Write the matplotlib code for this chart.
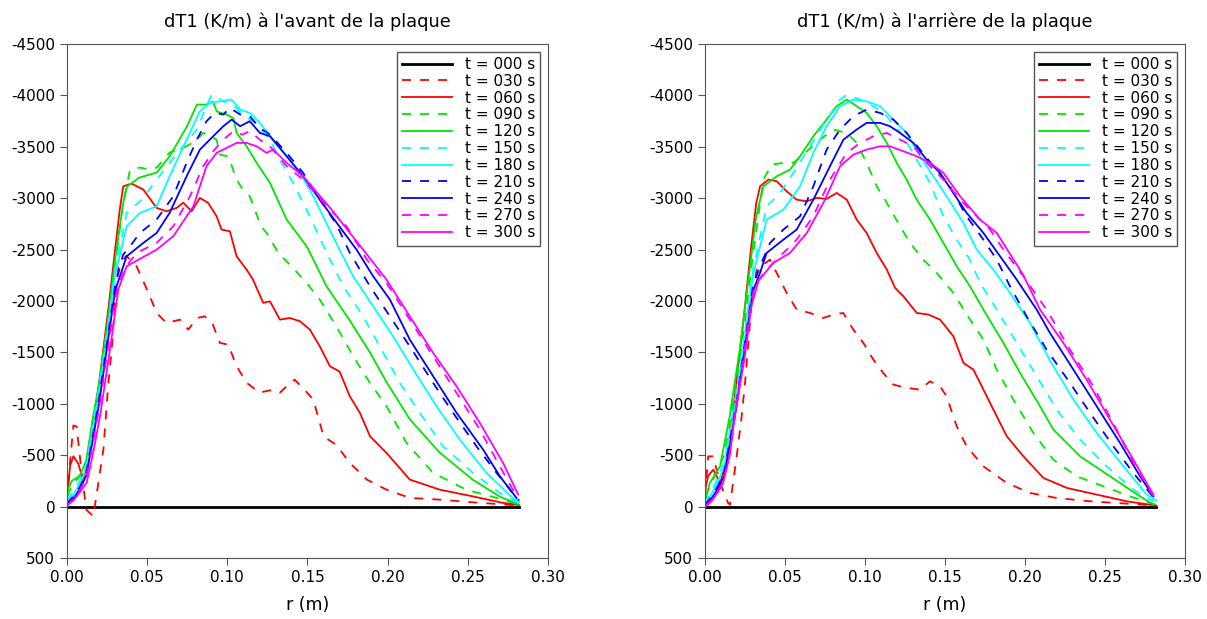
import matplotlib
matplotlib.use("Agg")
import matplotlib.pyplot as plt

plt.rcParams['font.family'] = ['DejaVu Sans']
plt.rcParams['axes.unicode_minus'] = False

# ---- données : face avant ----
r_av_000 = [0.0, 0.282]
dT_av_000 = [0, 0]

r_av_030 = [0, 0.002, 0.004, 0.006, 0.009, 0.012, 0.0164, 0.0196, 0.0227, 0.0258, 0.0279, 0.030, 0.032,
            0.037, 0.0434, 0.049, 0.056, 0.062, 0.0705, 0.0757, 0.081, 0.086, 0.091, 0.0954, 0.1006,
            0.1058, 0.112, 0.120, 0.1286, 0.1328, 0.137, 0.142, 0.149, 0.1536, 0.160, 0.168, 0.1764,
            0.187, 0.1993, 0.2138, 0.2325, 0.253, 0.274, 0.282]
dT_av_030 = [-50, -450, -790, -780, -350, 29, 94, -234, -555, -1203, -1527, -2014, -2338,
             -2440, -2338, -2143, -1883, -1786, -1819, -1722, -1835, -1851, -1770, -1592, -1576,
             -1365, -1206, -1109, -1138, -1109, -1170, -1235, -1122, -1041, -684, -600, -425,
             -263, -165, -85, -68, -42, -19, -10]

r_av_060 = [0, 0.002, 0.004, 0.007, 0.010, 0.014, 0.018, 0.022, 0.026, 0.030, 0.033, 0.0351, 0.0403,
            0.0476, 0.0559, 0.0621, 0.0684, 0.0725, 0.0777, 0.0829, 0.088, 0.0933, 0.0964, 0.1016,
            0.1058, 0.112, 0.116, 0.1224, 0.1266, 0.1328, 0.139, 0.1453, 0.1515, 0.1577, 0.164,
            0.170, 0.1764, 0.1827, 0.189, 0.1993, 0.2138, 0.2325, 0.253, 0.272, 0.282]
dT_av_060 = [-100, -400, -490, -420, -263, -500, -950, -1450, -1950, -2500, -2900, -3116, -3142,
             -3084, -2906, -2873, -2906, -2957, -2873, -3003, -2955, -2824, -2695, -2678,
             -2435, -2306, -2208, -1982, -1997, -1819, -1835, -1803, -1722, -1559, -1365,
             -1315, -1073, -912, -684, -522, -263, -165, -100, -36, -15]

r_av_090 = [0, 0.004, 0.008, 0.012, 0.016, 0.020, 0.025, 0.030, 0.035, 0.0393, 0.0455, 0.0517, 0.056,
            0.064, 0.0746, 0.081, 0.085, 0.0933, 0.0954, 0.1006, 0.1058, 0.109, 0.114, 0.121, 0.1245,
            0.1318, 0.141, 0.1494, 0.1577, 0.168, 0.1785, 0.189, 0.1993, 0.2118, 0.2284, 0.249,
            0.268, 0.282]
dT_av_090 = [-100, -220, -300, -420, -820, -1180, -1720, -2350, -2950, -3278, -3298, -3278, -3298,
             -3444, -3505, -3570, -3635, -3570, -3424, -3408, -3181, -3100, -3019, -2727, -2663,
             -2468, -2322, -2176, -2014, -1754, -1462, -1203, -976, -619, -327, -165,
             -84, -20]

r_av_120 = [0, 0.003, 0.008, 0.012, 0.016, 0.020, 0.025, 0.030, 0.035, 0.0374, 0.045, 0.056, 0.064,
            0.0748, 0.081, 0.087, 0.091, 0.0935, 0.0995, 0.1037, 0.1058, 0.112, 0.1183, 0.1266,
            0.137, 0.1496, 0.162, 0.176, 0.189, 0.1995, 0.214, 0.2325, 0.253, 0.270, 0.282]
dT_av_120 = [-150, -250, -300, -450, -850, -1200, -1750, -2400, -2950, -3113, -3200, -3250, -3408,
             -3697, -3911, -3911, -3940, -3843, -3814, -3781, -3635, -3505, -3344, -3149,
             -2792, -2530, -2140, -1820, -1498, -1206, -846, -525, -263, -97, -19]

r_av_150 = [0, 0.004, 0.008, 0.012, 0.016, 0.020, 0.025, 0.030, 0.0372, 0.0466, 0.0559, 0.0705,
            0.081, 0.087, 0.0902, 0.0975, 0.1037, 0.109, 0.116, 0.1266, 0.1328, 0.141, 0.1515,
            0.162, 0.1723, 0.1847, 0.1951, 0.2076, 0.22, 0.2346, 0.2533, 0.270, 0.282]
dT_av_150 = [-60, -150, -250, -400, -780, -1150, -1700, -2300, -2857, -2987, -3181, -3473,
             -3668, -3895, -4008, -3943, -3911, -3814, -3749, -3570, -3376, -3149, -2820,
             -2468, -2143, -1851, -1559, -1203, -912, -587, -327, -133, -30]

r_av_180 = [0, 0.004, 0.008, 0.012, 0.016, 0.020, 0.025, 0.030, 0.0372, 0.0455, 0.0559, 0.064,
            0.0746, 0.0829, 0.0892, 0.0954, 0.1027, 0.108, 0.114, 0.1203, 0.1286, 0.137, 0.1453,
            0.1536, 0.162, 0.170, 0.1785, 0.191, 0.2034, 0.216, 0.2305, 0.245, 0.2617, 0.278, 0.282]
dT_av_180 = [-40, -120, -220, -370, -740, -1100, -1650, -2250, -2727, -2857, -2921, -3213,
             -3570, -3846, -3927, -3943, -3959, -3862, -3830, -3733, -3570, -3408, -3246,
             -3019, -2750, -2500, -2240, -1948, -1657, -1333, -976, -652, -327, -84, -50]

r_av_210 = [0, 0.004, 0.008, 0.012, 0.016, 0.020, 0.025, 0.030, 0.035, 0.0393, 0.0455, 0.0559,
            0.0663, 0.0746, 0.081, 0.087, 0.0923, 0.0975, 0.1016, 0.108, 0.114, 0.1203, 0.1266,
            0.137, 0.1473, 0.1577, 0.168, 0.1764, 0.189, 0.2014, 0.2138, 0.2284, 0.2408, 0.2554,
            0.268, 0.278, 0.282]
dT_av_210 = [-30, -100, -190, -330, -680, -1050, -1600, -2150, -2450, -2532, -2662, -2792,
             -3019, -3344, -3570, -3749, -3830, -3814, -3878, -3814, -3797, -3684, -3619,
             -3441, -3246, -2986, -2750, -2468, -2143, -1851, -1559, -1203, -912, -587,
             -327, -133, -60]

r_av_240 = [0, 0.004, 0.008, 0.012, 0.016, 0.020, 0.025, 0.030, 0.0372, 0.0476, 0.0559, 0.064,
            0.0746, 0.0829, 0.0912, 0.0975, 0.1027, 0.108, 0.114, 0.1203, 0.1266, 0.137, 0.1473,
            0.164, 0.1806, 0.191, 0.2014, 0.2138, 0.2284, 0.243, 0.2596, 0.270, 0.2804]
dT_av_240 = [-20, -80, -170, -300, -640, -1000, -1550, -2100, -2435, -2565, -2662, -2857,
             -3213, -3473, -3603, -3700, -3765, -3700, -3749, -3635, -3603, -3408, -3213,
             -2850, -2500, -2240, -2014, -1625, -1268, -912, -554, -295, -84]

r_av_270 = [0, 0.004, 0.008, 0.012, 0.016, 0.020, 0.025, 0.030, 0.035, 0.0434, 0.0559, 0.0663,
            0.0767, 0.085, 0.0912, 0.0975, 0.1037, 0.109, 0.114, 0.1203, 0.1266, 0.137, 0.1473,
            0.164, 0.1744, 0.187, 0.1993, 0.2138, 0.2284, 0.243, 0.2575, 0.270, 0.2804]
dT_av_270 = [-15, -70, -160, -280, -600, -950, -1480, -2030, -2300, -2468, -2565, -2727,
             -3019, -3311, -3457, -3570, -3651, -3619, -3651, -3570, -3505, -3311, -3181,
             -2889, -2727, -2403, -2176, -1819, -1462, -1106, -749, -392, -100]

r_av_300 = [0, 0.004, 0.008, 0.0123, 0.016, 0.0206, 0.0268, 0.032, 0.0372, 0.0559, 0.0663, 0.0788,
            0.087, 0.0933, 0.0995, 0.1058, 0.112, 0.1183, 0.1245, 0.1286, 0.137, 0.1473, 0.164,
            0.1847, 0.1993, 0.2138, 0.2284, 0.243, 0.2575, 0.272, 0.2814]
dT_av_300 = [-10, -60, -140, -234, -500, -879, -1527, -2111, -2338, -2500, -2630, -2921,
             -3311, -3441, -3489, -3538, -3538, -3505, -3441, -3473, -3344, -3213, -2908,
             -2500, -2208, -1851, -1495, -1170, -814, -425, -117]

# ---- données : face arrière ----
r_ar_000 = [0.0, 0.282]
dT_ar_000 = [0, 0]

r_ar_030 = [0, 0.002, 0.005, 0.0102, 0.0144, 0.0156, 0.0198, 0.0229, 0.025, 0.0271, 0.0292, 0.0323,
            0.0406, 0.0448, 0.051, 0.0573, 0.0656, 0.0739, 0.0802, 0.0864, 0.0927, 0.099, 0.1052,
            0.1114, 0.1177, 0.126, 0.1344, 0.1406, 0.1469, 0.151, 0.1573, 0.1635, 0.174, 0.1886,
            0.2031, 0.2198, 0.2406, 0.2636, 0.282]
dT_ar_030 = [-100, -489, -489, -198, -36, -19, -489, -879, -1203, -1592, -2014, -2306,
             -2403, -2273, -2079, -1916, -1884, -1835, -1868, -1884, -1722, -1592, -1430,
             -1300, -1187, -1155, -1138, -1219, -1170, -1073, -781, -587, -392, -230,
             -133, -84, -52, -29, -10]

r_ar_060 = [0, 0.002, 0.0052, 0.0094, 0.013, 0.017, 0.021, 0.025, 0.029, 0.032, 0.0344, 0.0396,
            0.0448, 0.051, 0.0573, 0.0636, 0.0698, 0.076, 0.0823, 0.0886, 0.0948, 0.101, 0.1073,
            0.1136, 0.1188, 0.124, 0.1323, 0.1396, 0.1469, 0.1552, 0.1615, 0.1677, 0.174, 0.1802,
            0.1886, 0.199, 0.2115, 0.2261, 0.2448, 0.2636, 0.278, 0.282]
dT_ar_060 = [-165, -300, -360, -230, -420, -850, -1400, -1950, -2550, -2950, -3116, -3181,
             -3165, -3067, -2986, -2970, -3003, -2993, -3051, -2986, -2792, -2662, -2468,
             -2306, -2127, -2046, -1884, -1868, -1819, -1657, -1398, -1333, -1138, -944,
             -684, -489, -279, -182, -117, -52, -19, -10]

r_ar_090 = [0, 0.004, 0.008, 0.012, 0.016, 0.020, 0.025, 0.030, 0.0365, 0.0417, 0.049, 0.0552,
            0.0636, 0.0719, 0.0802, 0.0886, 0.0948, 0.101, 0.1073, 0.1136, 0.1219, 0.1281, 0.1364,
            0.1448, 0.1552, 0.1656, 0.174, 0.1823, 0.1927, 0.2052, 0.2177, 0.2323, 0.249, 0.2656,
            0.278, 0.282]
dT_ar_090 = [-100, -230, -360, -500, -850, -1250, -1800, -2450, -3181, -3327, -3344, -3344,
             -3457, -3570, -3668, -3635, -3538, -3344, -3116, -2955, -2727, -2565, -2403,
             -2273, -2079, -1819, -1625, -1333, -1041, -717, -457, -295, -198, -100,
             -36, -20]

r_ar_120 = [0, 0.003, 0.0094, 0.0154, 0.0217, 0.0269, 0.032, 0.0365, 0.0448, 0.0531, 0.0594,
            0.0677, 0.076, 0.0823, 0.0886, 0.0948, 0.101, 0.1073, 0.1136, 0.1198, 0.126, 0.1323,
            0.1406, 0.149, 0.1573, 0.1656, 0.174, 0.1865, 0.1969, 0.2094, 0.2177, 0.2344, 0.2531,
            0.2719, 0.2802]
dT_ar_120 = [-50, -230, -392, -879, -1527, -2176, -2824, -3116, -3213, -3278, -3408,
             -3603, -3765, -3895, -3959, -3895, -3830, -3700, -3538, -3344, -3181, -2986,
             -2792, -2565, -2338, -2143, -1916, -1592, -1300, -976, -749, -489, -295,
             -100, -19]

r_ar_150 = [0, 0.004, 0.008, 0.012, 0.016, 0.020, 0.025, 0.030, 0.0385, 0.0469, 0.0552, 0.0656,
            0.076, 0.0844, 0.0886, 0.0969, 0.1052, 0.1136, 0.124, 0.1323, 0.1406, 0.149, 0.1573,
            0.1656, 0.1719, 0.1823, 0.1948, 0.2073, 0.2198, 0.2344, 0.251, 0.2677, 0.2802]
dT_ar_150 = [-30, -150, -280, -430, -780, -1150, -1700, -2300, -2921, -3051, -3246, -3505,
             -3765, -3959, -4008, -3959, -3895, -3797, -3603, -3376, -3149, -2824, -2597,
             -2400, -2176, -1916, -1592, -1268, -944, -652, -392, -165, -52]

r_ar_180 = [0, 0.004, 0.008, 0.012, 0.016, 0.020, 0.025, 0.030, 0.0385, 0.049, 0.0594, 0.0677,
            0.076, 0.0844, 0.0927, 0.101, 0.1094, 0.1177, 0.126, 0.1344, 0.1427, 0.151, 0.1615,
            0.1698, 0.1802, 0.1906, 0.2031, 0.2156, 0.2302, 0.2448, 0.2615, 0.276, 0.282]
dT_ar_180 = [-20, -120, -240, -390, -730, -1100, -1650, -2250, -2792, -2889, -3116, -3441,
             -3700, -3895, -3959, -3943, -3895, -3765, -3635, -3408, -3213, -3019, -2760,
             -2500, -2306, -2079, -1787, -1420, -1041, -717, -392, -117, -60]

r_ar_210 = [0, 0.004, 0.008, 0.012, 0.016, 0.020, 0.025, 0.030, 0.0344, 0.0406, 0.049, 0.0594,
            0.0677, 0.076, 0.0844, 0.0927, 0.101, 0.1094, 0.1177, 0.126, 0.1344, 0.1427, 0.1531,
            0.1635, 0.174, 0.1823, 0.1906, 0.201, 0.2135, 0.2281, 0.2406, 0.2552, 0.2677, 0.278,
            0.282]
dT_ar_210 = [-15, -100, -200, -340, -680, -1050, -1600, -2150, -2338, -2565, -2695, -2824,
             -3116, -3473, -3668, -3797, -3862, -3830, -3765, -3635, -3473, -3311, -3116,
             -2824, -2597, -2403, -2143, -1851, -1527, -1203, -912, -587, -327, -133,
             -60]

r_ar_240 = [0, 0.004, 0.008, 0.012, 0.016, 0.020, 0.025, 0.030, 0.0344, 0.0385, 0.049, 0.0573,
            0.0677, 0.0781, 0.0865, 0.0948, 0.101, 0.1094, 0.1156, 0.1219, 0.1302, 0.1385, 0.1469,
            0.1552, 0.1635, 0.174, 0.1844, 0.1948, 0.2073, 0.2156, 0.2302, 0.2448, 0.2594, 0.2719,
            0.2802]
dT_ar_240 = [-10, -80, -170, -300, -640, -1000, -1550, -2100, -2273, -2468, -2597, -2695,
             -2986, -3311, -3570, -3668, -3733, -3733, -3700, -3635, -3538, -3376, -3246,
             -3051, -2857, -2662, -2435, -2208, -1916, -1689, -1333, -976, -619, -295,
             -100]

r_ar_270 = [0, 0.004, 0.008, 0.0113, 0.016, 0.0185, 0.022, 0.0248, 0.028, 0.031, 0.0385, 0.0469,
            0.0573, 0.0677, 0.0781, 0.0886, 0.0969, 0.1052, 0.1136, 0.1219, 0.1302, 0.1385, 0.149,
            0.1594, 0.1698, 0.1781, 0.1865, 0.199, 0.2135, 0.2281, 0.2427, 0.2573, 0.2677, 0.2802]
dT_ar_270 = [-5, -60, -150, -240, -560, -860, -1250, -1530, -1900, -2150, -2306, -2435,
             -2597, -2824, -3181, -3441, -3538, -3603, -3635, -3570, -3505, -3344, -3181,
             -2986, -2824, -2695, -2500, -2240, -1916, -1527, -1170, -749, -425, -100]

r_ar_300 = [0, 0.004, 0.008, 0.0113, 0.0155, 0.0185, 0.0248, 0.029, 0.0335, 0.0427, 0.0531,
            0.0636, 0.074, 0.0844, 0.0927, 0.101, 0.1094, 0.1156, 0.124, 0.1323, 0.1406, 0.149,
            0.1594, 0.1719, 0.1823, 0.1865, 0.199, 0.2094, 0.224, 0.2385, 0.2531, 0.2677, 0.2802]
dT_ar_300 = [0, -50, -140, -230, -500, -879, -1450, -1950, -2200, -2371, -2468,
             -2662, -2955, -3311, -3424, -3473, -3505, -3505, -3457, -3408, -3344, -3246,
             -3019, -2792, -2662, -2560, -2250, -1916, -1592, -1235, -846, -457, -117]

etiquettes = ['t = 000 s', 't = 030 s', 't = 060 s', 't = 090 s', 't = 120 s', 't = 150 s',
              't = 180 s', 't = 210 s', 't = 240 s', 't = 270 s', 't = 300 s']
couleurs = ['black', 'red', 'red', '#00e600', '#00e600', 'cyan', 'cyan',
            'blue', 'blue', 'magenta', 'magenta']
tirets = [False, True, False, True, False, True, False, True, False, True, False]

avant = [(r_av_000, dT_av_000), (r_av_030, dT_av_030), (r_av_060, dT_av_060),
         (r_av_090, dT_av_090), (r_av_120, dT_av_120), (r_av_150, dT_av_150),
         (r_av_180, dT_av_180), (r_av_210, dT_av_210), (r_av_240, dT_av_240),
         (r_av_270, dT_av_270), (r_av_300, dT_av_300)]
arriere = [(r_ar_000, dT_ar_000), (r_ar_030, dT_ar_030), (r_ar_060, dT_ar_060),
           (r_ar_090, dT_ar_090), (r_ar_120, dT_ar_120), (r_ar_150, dT_ar_150),
           (r_ar_180, dT_ar_180), (r_ar_210, dT_ar_210), (r_ar_240, dT_ar_240),
           (r_ar_270, dT_ar_270), (r_ar_300, dT_ar_300)]

fig = plt.figure(figsize=(12.07, 6.19), dpi=100)
ax1 = fig.add_axes([0.0555, 0.0985, 0.3985, 0.8304])
ax2 = fig.add_axes([0.5841, 0.0985, 0.3977, 0.8304])

titres = ["dT1 (K/m) à l'avant de la plaque", "dT1 (K/m) à l'arrière de la plaque"]

for ax, donnees, titre in [(ax1, avant, titres[0]), (ax2, arriere, titres[1])]:
    for (r, dT), lab, c, d in zip(donnees, etiquettes, couleurs, tirets):
        if d:
            ax.plot(r, dT, color=c, lw=1.3, linestyle=(0, (5, 5)), label=lab)
        elif c == 'black':
            ax.plot(r, dT, color=c, lw=2.0, label=lab, zorder=1)
        else:
            ax.plot(r, dT, color=c, lw=1.3, label=lab)
    ax.set_xlim(0, 0.30)
    ax.set_ylim(500, -4500)
    ax.set_xticks([0.0, 0.05, 0.10, 0.15, 0.20, 0.25, 0.30])
    ax.set_xticklabels(['0.00', '0.05', '0.10', '0.15', '0.20', '0.25', '0.30'])
    ax.set_yticks(range(-4500, 501, 500))
    ax.tick_params(labelsize=11, length=5, color='#555555', direction='out')
    for s in ax.spines.values():
        s.set_color('#555555')
    ax.set_title(titre, fontsize=12.8, pad=12)
    ax.set_xlabel('r (m)', fontsize=12.5, labelpad=8)
    leg = ax.legend(loc='upper right', fontsize=11, fancybox=False, handlelength=3.3,
                    labelspacing=0.12, borderpad=0.35, handletextpad=0.8,
                    borderaxespad=0.5, framealpha=1)
    leg.get_frame().set_edgecolor('#555555')
    leg.get_frame().set_linewidth(1.0)

fig.savefig('out.png', dpi=100)
